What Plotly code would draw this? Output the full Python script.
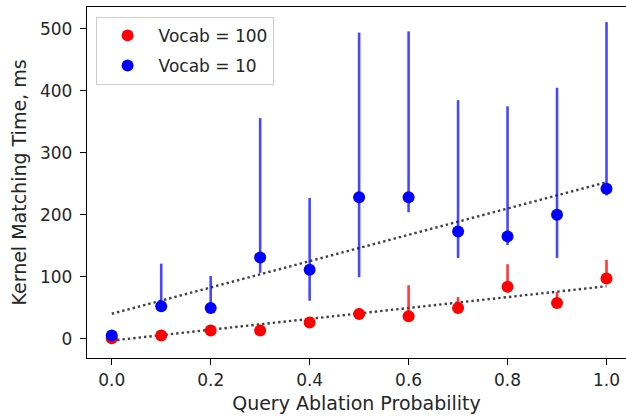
import plotly.graph_objects as go

# ---- data ----
x_vals = [0.0, 0.1, 0.2, 0.3, 0.4, 0.5, 0.6, 0.7, 0.8, 0.9, 1.0]

red_y  = [0.5, 5, 13, 13, 26, 39.7, 36, 49.5, 83.5, 57.5, 97]
red_hi = [0.5, 5, 13, 13, 26, 49.5, 86, 67, 120, 75, 127]
red_lo = [0.5, 3, 11, 11, 24, 37, 34, 47, 81, 55, 95]

blue_y  = [5, 52, 49.5, 131, 111, 228, 228, 173, 165, 200, 242]
blue_hi = [5, 121, 101, 356, 227, 494, 496, 385, 375, 405, 511]
blue_lo = [5, 49, 47, 106, 61, 99, 204, 130, 151, 130, 231]

fit_x = [0.0, 1.0]
fit_red = [-3.3, 84.5]
fit_blue = [40, 252.5]

y_ticks = [0, 100, 200, 300, 400, 500]
x_ticks = [0.0, 0.2, 0.4, 0.6, 0.8, 1.0]
x_tick_text = ["0.0", "0.2", "0.4", "0.6", "0.8", "1.0"]

FONT = "DejaVu Sans"

fig = go.Figure()

# dotted fit lines (behind markers)
for fy in (fit_blue, fit_red):
    fig.add_trace(go.Scatter(
        x=fit_x, y=fy, mode="lines", showlegend=False, hoverinfo="skip",
        line=dict(color="rgba(30,30,30,0.85)", width=2.4, dash="2.4px,3px"),
    ))

def add_series(name, y, hi, lo, color, errcolor, group):
    fig.add_trace(go.Scatter(
        x=x_vals, y=y, mode="markers", name=name, legendgroup=group,
        marker=dict(color=color, size=12, line=dict(width=0)),
        error_y=dict(
            type="data", symmetric=False,
            array=[h - v for h, v in zip(hi, y)],
            arrayminus=[v - l for l, v in zip(lo, y)],
            color=errcolor, thickness=2.6, width=0,
        ),
    ))

add_series("Vocab = 100", red_y, red_hi, red_lo, "#ff0000", "rgba(255,0,0,0.78)", "a")
add_series("Vocab = 10", blue_y, blue_hi, blue_lo, "#0000ff", "rgba(0,0,255,0.72)", "b")

fig.update_layout(
    width=626, height=419,
    margin=dict(l=87, r=0, t=7, b=61),
    paper_bgcolor="white", plot_bgcolor="white",
    font=dict(family=FONT, size=17, color="#262626"),
    showlegend=True,
    legend=dict(
        x=0.016, y=0.972, xanchor="left", yanchor="top",
        bgcolor="rgba(255,255,255,0.8)", bordercolor="#cccccc", borderwidth=1,
        font=dict(family=FONT, size=17, color="#262626"),
        traceorder="grouped", tracegroupgap=5, itemwidth=52,
    ),
    xaxis=dict(
        range=[-0.05, 1.0394], tickvals=x_ticks, ticktext=x_tick_text,
        showgrid=False, zeroline=False,
        showline=True, linecolor="black", linewidth=1.3, mirror=True,
        ticks="outside", ticklen=6, tickwidth=1.3, tickcolor="black",
        title=dict(text="Query Ablation Probability", font=dict(family=FONT, size=19), standoff=8),
    ),
    yaxis=dict(
        range=[-31.4, 535.4], tickvals=y_ticks,
        showgrid=False, zeroline=False,
        showline=True, linecolor="black", linewidth=1.3,
        ticks="outside", ticklen=6, tickwidth=1.3, tickcolor="black",
        ticklabelstandoff=4,
        title=dict(text="Kernel Matching Time, ms", font=dict(family=FONT, size=19), standoff=8),
    ),
)

fig.write_html("out.html")
